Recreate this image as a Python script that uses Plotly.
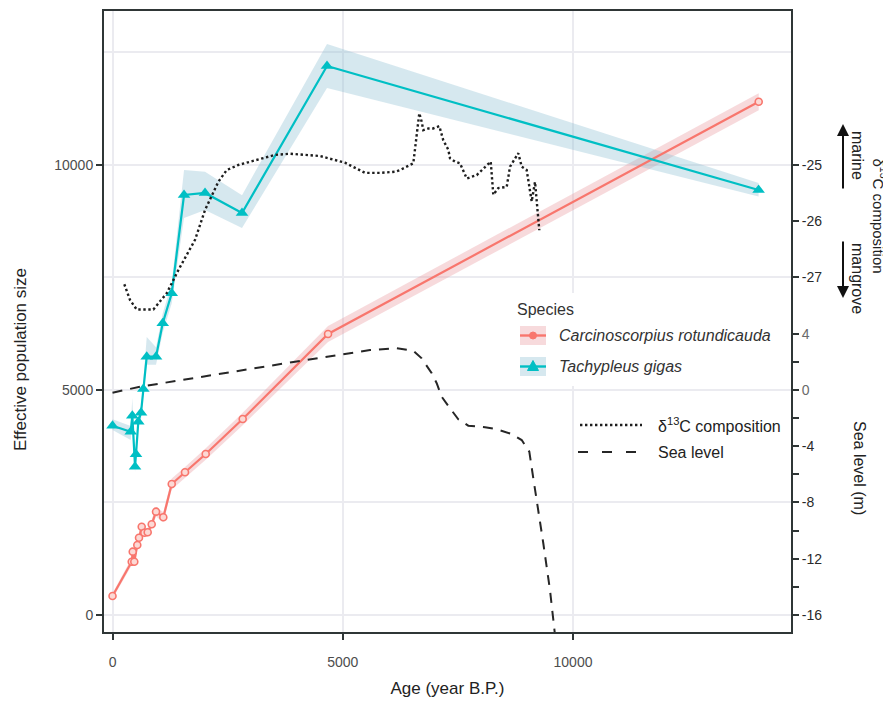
import plotly.graph_objects as go

# ---------------- data ----------------
tg_age = [0, 395, 430, 489, 510, 560, 619, 669, 743, 945, 1090, 1286, 1553, 2009, 2812, 4658, 14030]
tg_ne = [4207, 4073, 4429, 3296, 3571, 4296, 4496, 5022, 5740, 5740, 6482, 7149, 9333, 9378, 8933, 12200, 9444]
tg_lo = [4110, 3890, 4300, 3180, 3440, 4170, 4360, 4870, 5560, 5560, 6270, 6930, 8820, 9000, 8600, 11710, 9300]
tg_hi = [4350, 4200, 4820, 3420, 3720, 4440, 4650, 5190, 6180, 5950, 6700, 7380, 9890, 9850, 9330, 12690, 9600]

cr_age = [0, 417, 439, 473, 538, 575, 634, 691, 764, 851, 945, 1103, 1286, 1574, 2024, 2827, 4680, 14033]
cr_ne = [422, 1184, 1407, 1184, 1556, 1718, 1962, 1829, 1838, 2016, 2296, 2171, 2911, 3171, 3578, 4356, 6244, 11407]
cr_lo = [360, 1104, 1317, 1104, 1466, 1628, 1862, 1729, 1738, 1916, 2186, 2061, 2791, 3051, 3448, 4216, 6064, 11217]
cr_hi = [482, 1264, 1497, 1264, 1646, 1808, 2062, 1929, 1938, 2116, 2406, 2281, 3031, 3291, 3708, 4496, 6424, 11597]

d13c_age = [256, 380, 526, 886, 1177, 1429, 1792, 2009, 2297, 2480, 2732, 3240, 3529, 3855, 4506,
            5049, 5483, 5809, 6135, 6243, 6532, 6662, 6714, 6749, 6858, 6966, 7097, 7183, 7292,
            7329, 7438, 7546, 7692, 7909, 8052, 8213, 8269, 8378, 8560, 8632, 8812, 8886, 8994,
            9103, 9175, 9212, 9268]
d13c_val = [-27.12, -27.40, -27.57, -27.57, -27.28, -26.87, -26.33, -25.80, -25.30, -25.09, -25.00,
            -24.88, -24.82, -24.80, -24.84, -24.96, -25.14, -25.14, -25.12, -25.09, -24.97, -24.08,
            -24.23, -24.38, -24.35, -24.35, -24.31, -24.56, -24.73, -24.88, -24.94, -24.97, -25.24,
            -25.18, -25.06, -24.94, -25.53, -25.41, -25.39, -25.03, -24.79, -25.03, -25.09, -25.65,
            -25.30, -25.68, -26.16]

sea_age = [0, 597, 3963, 5592, 6172, 6532, 6714, 6932, 7040, 7149, 7329, 7509, 7726, 8089, 8343,
           8669, 8886, 9051, 9138, 9246, 9355, 9500, 9609]
sea_level = [-0.19, 0.23, 2.01, 2.84, 2.97, 2.79, 2.25, 1.19, 0.48, -0.48, -1.30, -2.08, -2.54,
             -2.65, -2.79, -3.13, -3.56, -4.39, -6.28, -8.53, -10.90, -14.22, -17.42]

x_ticks = [0, 5000, 10000]
ne_ticks = [0, 5000, 10000]
d13c_ticks = [-27, -26, -25]
sea_ticks = [-16, -12, -8, -4, 0, 4]
sea_minor = [-14, -10, -6, -2, 2]

# ---------------- style / layout ----------------
RED = "#F8766D"
CYAN = "#00BFC4"
RED_FILL = "rgba(232,150,155,0.35)"
CYAN_FILL = "rgba(140,190,210,0.36)"
DARK = "#2F3636"
GRID = "#EBEBF0"
FONT = "Liberation Sans, Arial, sans-serif"

OFF = 8                      # the page body adds an 8px margin around the figure
W, H = 891 - OFF, 704 - OFF
L, R, T, B = 104, 791, 11, 632   # plot area in screen pixels

def px(x):
    return (x - L) / (R - L)

def py(y):
    return (B - y) / (B - T)

x_range = [-185, 14734]
ne_range = [-378, 13422]
# secondary scales share the same vertical positions:
# d13C = -25 + (Ne - 10000)/1250 ; sea level = (Ne - 5000)/312.5
d13c_range = [-25 + (ne_range[0] - 10000) / 1250, -25 + (ne_range[1] - 10000) / 1250]
sea_range = [(ne_range[0] - 5000) / 312.5, (ne_range[1] - 5000) / 312.5]

fig = go.Figure()

# ribbons
fig.add_trace(go.Scatter(x=cr_age + cr_age[::-1], y=cr_hi + cr_lo[::-1], fill="toself",
                         fillcolor=RED_FILL, line=dict(width=0), mode="lines",
                         hoverinfo="skip", showlegend=False))
fig.add_trace(go.Scatter(x=tg_age + tg_age[::-1], y=tg_hi + tg_lo[::-1], fill="toself",
                         fillcolor=CYAN_FILL, line=dict(width=0), mode="lines",
                         hoverinfo="skip", showlegend=False))
# species lines
fig.add_trace(go.Scatter(x=cr_age, y=cr_ne, mode="lines+markers", name="Carcinoscorpius rotundicauda",
                         line=dict(color=RED, width=2.2),
                         marker=dict(symbol="circle", size=7, color="#FCD9D5",
                                     line=dict(color=RED, width=1.6)),
                         showlegend=False))
fig.add_trace(go.Scatter(x=tg_age, y=tg_ne, mode="lines+markers", name="Tachypleus gigas",
                         line=dict(color=CYAN, width=2.2),
                         marker=dict(symbol="triangle-up", size=11, color=CYAN),
                         showlegend=False))
# d13C
fig.add_trace(go.Scatter(x=d13c_age, y=d13c_val, yaxis="y2", mode="lines", name="δ13C composition",
                         line=dict(color="#1E1E1E", width=2.4, dash="2.4px,2.6px"),
                         showlegend=False))
# sea level
fig.add_trace(go.Scatter(x=sea_age, y=sea_level, yaxis="y3", mode="lines", name="Sea level",
                         line=dict(color="#262626", width=2, dash="10px,8px"),
                         showlegend=False))

tickfont = dict(family=FONT, size=14, color="#4D4D4D")

fig.update_layout(
    width=W, height=H,
    margin=dict(l=L - OFF, r=W - (R - OFF), t=T - OFF, b=H - (B - OFF), autoexpand=False),
    paper_bgcolor="white", plot_bgcolor="white",
    font=dict(family=FONT, color="#222"),
    showlegend=False,
    xaxis=dict(range=x_range, tickvals=x_ticks, ticktext=[str(v) for v in x_ticks],
               showgrid=True, gridcolor=GRID, gridwidth=2, zeroline=False,
               showline=True, linecolor=DARK, linewidth=2, mirror=True,
               ticks="outside", ticklen=6, tickwidth=2, tickcolor=DARK,
               tickfont=tickfont, ticklabelstandoff=10,
               title=dict(text="Age (year B.P.)", font=dict(family=FONT, size=17, color="#222"),
                          standoff=13)),
    yaxis=dict(range=ne_range, tickvals=ne_ticks, ticktext=[str(v) for v in ne_ticks],
               showgrid=True, gridcolor=GRID, gridwidth=2, zeroline=False,
               showline=True, linecolor=DARK, linewidth=2,
               ticks="outside", ticklen=6, tickwidth=2, tickcolor=DARK,
               tickfont=tickfont,
               minor=dict(tickvals=[2500, 7500, 12500], showgrid=True, gridcolor=GRID,
                          gridwidth=1.6, ticks="")),
    yaxis2=dict(range=d13c_range, overlaying="y", side="right", anchor="x",
                tickvals=d13c_ticks, ticktext=[str(v) for v in d13c_ticks],
                showgrid=False, zeroline=False, showline=True, linecolor=DARK, linewidth=2,
                ticks="outside", ticklen=6, tickwidth=2, tickcolor=DARK,
                tickfont=dict(family=FONT, size=14, color="#2A2A2A")),
    yaxis3=dict(range=sea_range, overlaying="y", side="right", anchor="x",
                tickvals=sea_ticks,
                ticktext=[("<span style='color:#6A6A6A'>%d</span>" % v) if v >= 0 else str(v) for v in sea_ticks],
                showgrid=False, zeroline=False, showline=True, linecolor=DARK, linewidth=2,
                ticks="outside", ticklen=6, tickwidth=2, tickcolor=DARK,
                minor=dict(tickvals=sea_minor, ticks="outside", ticklen=6, tickwidth=2,
                           tickcolor=DARK, showgrid=False),
                tickfont=dict(family=FONT, size=14, color="#2A2A2A")),
)

shapes = []
ann = []

def txt(text, x, y, size=16, color="#222", angle=0, xanchor="left", yanchor="middle"):
    ann.append(dict(text=text, x=px(x), y=py(y), xref="paper", yref="paper",
                    xanchor=xanchor, yanchor=yanchor, showarrow=False, textangle=angle,
                    font=dict(family=FONT, size=size, color=color)))

# y axis title (placed like the reference)
txt("Effective population size", 20, 360, size=17, angle=-90, xanchor="center")

# ---- species legend (ggplot-like keys) ----
shapes.append(dict(type="rect", xref="paper", yref="paper", x0=px(503), x1=px(790),
                   y0=py(386), y1=py(293), fillcolor="white", line=dict(width=0), layer="above"))
txt("Species", 515, 309, color="#333")
shapes.append(dict(type="rect", xref="paper", yref="paper", x0=px(520), x1=px(546),
                   y0=py(345), y1=py(326), fillcolor=RED_FILL, line=dict(width=0), layer="above"))
shapes.append(dict(type="line", xref="paper", yref="paper", x0=px(520), x1=px(546),
                   y0=py(335.5), y1=py(335.5), line=dict(color=RED, width=2.4), layer="above"))
shapes.append(dict(type="circle", xref="paper", yref="paper", x0=px(529.5), x1=px(536.5),
                   y0=py(339), y1=py(332), fillcolor=RED, line=dict(color=RED, width=1), layer="above"))
txt("<i>Carcinoscorpius rotundicauda</i>", 557, 335.5, color="#333")
shapes.append(dict(type="rect", xref="paper", yref="paper", x0=px(520), x1=px(546),
                   y0=py(376), y1=py(357), fillcolor=CYAN_FILL, line=dict(width=0), layer="above"))
shapes.append(dict(type="line", xref="paper", yref="paper", x0=px(520), x1=px(546),
                   y0=py(366.5), y1=py(366.5), line=dict(color=CYAN, width=2.4), layer="above"))
tri = "M %f %f L %f %f L %f %f Z" % (px(527.5), py(370.5), px(538.5), py(370.5), px(533), py(360.5))
shapes.append(dict(type="path", xref="paper", yref="paper", path=tri, fillcolor=CYAN,
                   line=dict(color=CYAN, width=1), layer="above"))
txt("<i>Tachypleus gigas</i>", 557, 366.5, color="#333")

# ---- environment legend ----
shapes.append(dict(type="line", xref="paper", yref="paper", x0=px(580), x1=px(642),
                   y0=py(425), y1=py(425), line=dict(color="#1E1E1E", width=2.4, dash="2.4px,2.6px"),
                   layer="above"))
shapes.append(dict(type="line", xref="paper", yref="paper", x0=px(578), x1=px(642),
                   y0=py(452), y1=py(452), line=dict(color="#262626", width=2, dash="10px,14px"),
                   layer="above"))
txt("δ<sup>13</sup>C composition", 656, 425)
txt("Sea level", 656, 452)

# ---- right-side titles ----
txt("δ<sup>13</sup>C composition", 880, 156, size=15, angle=90, xanchor="center", yanchor="top")
txt("Sea level (m)", 859, 468, size=16, angle=90, xanchor="center")
txt("marine", 858, 155, size=16, angle=90, xanchor="center")
txt("mangrove", 858, 278, size=16, angle=90, xanchor="center")
# arrows
ann.append(dict(text="", x=px(843), y=py(124), xref="paper", yref="paper",
                ax=0, ay=66, axref="pixel", ayref="pixel", showarrow=True,
                arrowhead=2, arrowsize=1.2, arrowwidth=2, arrowcolor="#111"))
ann.append(dict(text="", x=px(843), y=py(298), xref="paper", yref="paper",
                ax=0, ay=-58, axref="pixel", ayref="pixel", showarrow=True,
                arrowhead=2, arrowsize=1.2, arrowwidth=2, arrowcolor="#111"))

fig.update_layout(shapes=shapes, annotations=ann)

fig.write_html("out.html")
